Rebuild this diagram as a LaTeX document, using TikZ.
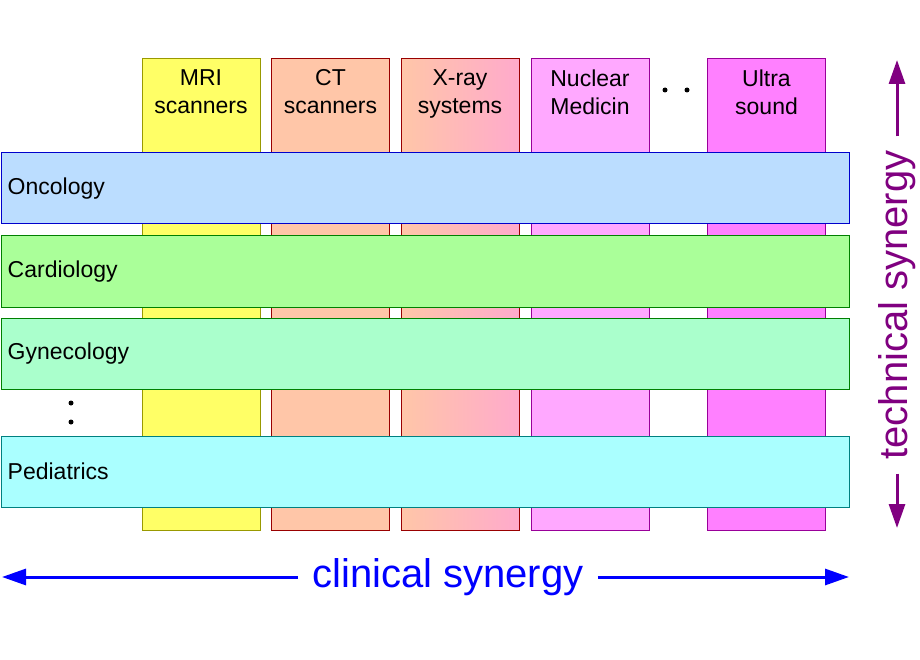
\documentclass[tikz,border=0pt]{standalone}
\usepackage{fontspec}
\setmainfont{Liberation Sans}
\usetikzlibrary{arrows.meta, positioning}

\definecolor{mriFill}{HTML}{FFFF66}
\definecolor{mriLine}{HTML}{999900}
\definecolor{ctFill}{HTML}{FFC6A8}
\definecolor{xrayRight}{HTML}{FFAACC}
\definecolor{redLine}{HTML}{990000}
\definecolor{nucFill}{HTML}{FFA8FF}
\definecolor{usFill}{HTML}{FF80FF}
\definecolor{purpLine}{HTML}{990099}
\definecolor{oncFill}{HTML}{BBDDFF}
\definecolor{oncLine}{HTML}{0000CC}
\definecolor{carFill}{HTML}{AAFF99}
\definecolor{gynFill}{HTML}{AAFFCC}
\definecolor{greenLine}{HTML}{008000}
\definecolor{pedFill}{HTML}{AAFFFF}
\definecolor{pedLine}{HTML}{008080}
\definecolor{techPurple}{HTML}{800080}

\begin{document}
\begin{tikzpicture}[x=1pt, y=-1pt]
		\tikzstyle{Col} = [rectangle, minimum width=118pt, minimum height=471pt, inner sep=0pt, line width=1pt, draw]
		\tikzstyle{Row} = [rectangle, minimum width=848pt, minimum height=71pt, inner sep=0pt, line width=1pt, draw]
		\tikzstyle{ColText} = [anchor=north, align=center, inner sep=0pt, font=\fontsize{23}{28}\selectfont]
		\tikzstyle{RowText} = [anchor=west, inner sep=0pt, font=\fontsize{23}{28}\selectfont]
		\tikzstyle{arrow} = [line width=3pt, -{Triangle[length=24pt, width=16pt]}]
		
		\useasboundingbox (0,0) rectangle (920,660);
		
		% modalities
		\node (mri) [Col, fill=mriFill, draw=mriLine] at (201,294.5) {};
		\node (ct) [Col, fill=ctFill, draw=redLine] at (330.5,294.5) {};
		\node (xray) [Col, left color=ctFill, right color=xrayRight, draw=redLine] at (460,294.5) {};
		\node (nuc) [Col, fill=nucFill, draw=purpLine] at (590,294.5) {};
		\node (us) [Col, fill=usFill, draw=purpLine] at (766.5,294.5) {};
		
		\node (mriT) [ColText] at ([yshift=-11]mri.north) {MRI\\scanners};
		\node (ctT) [ColText] at ([yshift=-11]ct.north) {CT\\scanners};
		\node (xrayT) [ColText] at ([yshift=-11]xray.north) {X-ray\\systems};
		\node (nucT) [ColText] at ([yshift=-11]nuc.north) {Nuclear\\Medicin};
		\node (usT) [ColText] at ([yshift=-11]us.north) {Ultra\\sound};
		
		\fill (665,90) circle (2.5pt);
		\fill (687,90) circle (2.5pt);
		
		% departments
		\node (onc) [Row, fill=oncFill, draw=oncLine] at (425,188.5) {};
		\node (car) [Row, fill=carFill, draw=greenLine] at (425,271.5) {};
		\node (gyn) [Row, fill=gynFill, draw=greenLine] at (425,353.5) {};
		\node (ped) [Row, fill=pedFill, draw=pedLine] at (425,471.5) {};
		
		\node (oncT) [RowText] at ([xshift=7]onc.west) {Oncology};
		\node (carT) [RowText] at ([xshift=7]car.west) {Cardiology};
		\node (gynT) [RowText] at ([xshift=7]gyn.west) {Gynecology};
		\node (pedT) [RowText] at ([xshift=7]ped.west) {Pediatrics};
		
		\fill (71,403) circle (2.5pt);
		\fill (71,422) circle (2.5pt);
		
		% synergy axes
		\node (clin) [blue, inner xsep=14pt, inner ysep=0pt, font=\fontsize{40}{48}\selectfont] at (448,577) {clinical synergy};
		\coordinate (clinL) at (2,577);
		\coordinate (clinR) at (849,577);
		\draw [arrow, blue] (clin.west) -- (clinL);
		\draw [arrow, blue] (clin.east) -- (clinR);
		
		\node (tech) [techPurple, rotate=90, inner xsep=14pt, inner ysep=0pt, font=\fontsize{40}{48}\selectfont] at (897,305) {technical synergy};
		\coordinate (techT) at (897,60);
		\coordinate (techB) at (897,528);
		\draw [arrow, techPurple] (tech.east) -- (techT);
		\draw [arrow, techPurple] (tech.west) -- (techB);
\end{tikzpicture}
\end{document}
